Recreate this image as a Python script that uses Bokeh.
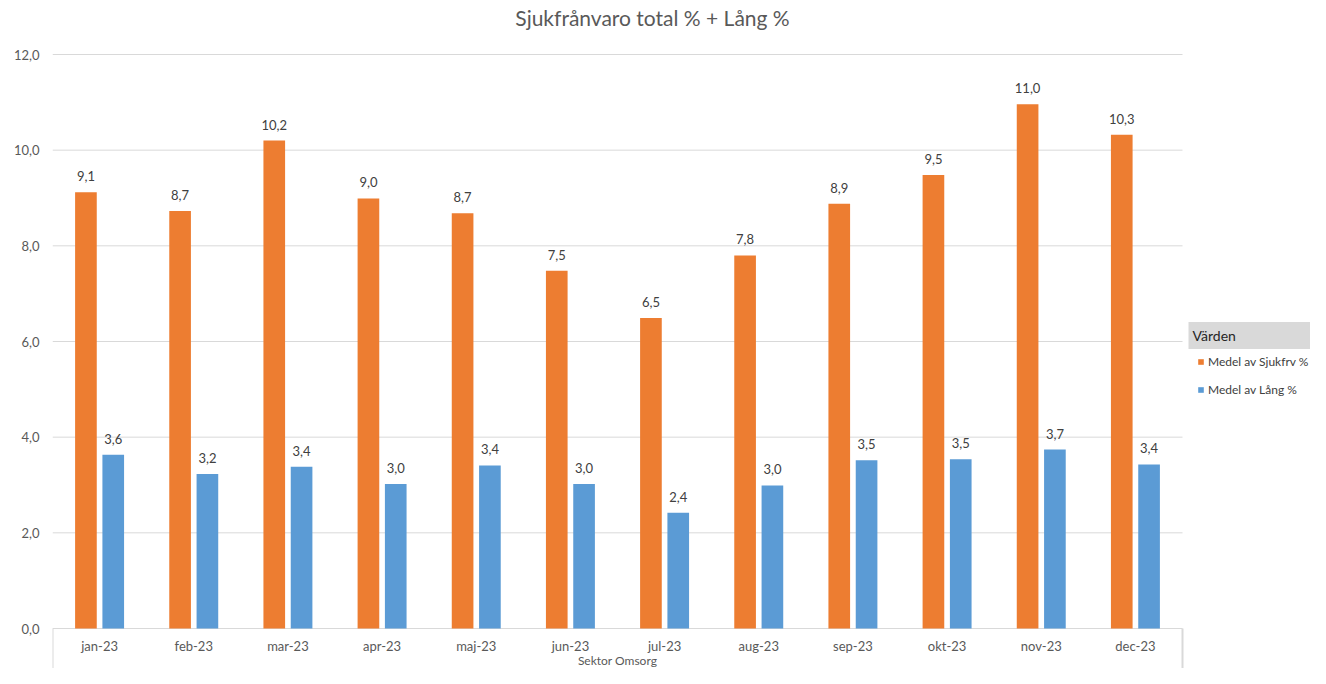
import numpy as np
from bokeh.plotting import figure
from bokeh.models import (Range1d, FixedTicker, CustomJSTickFormatter, Label,
                          Legend, LegendItem, ColumnDataSource)
from bokeh.core.properties import value
from bokeh.embed import file_html
from bokeh.resources import INLINE

# ---- data ----
months = ["jan-23", "feb-23", "mar-23", "apr-23", "maj-23", "jun-23",
          "jul-23", "aug-23", "sep-23", "okt-23", "nov-23", "dec-23"]
sjukfrv = [9.12, 8.73, 10.20, 8.99, 8.68, 7.48, 6.49, 7.80, 8.88, 9.48, 10.96, 10.32]
lang = [3.63, 3.23, 3.38, 3.02, 3.41, 3.02, 2.42, 2.99, 3.52, 3.54, 3.74, 3.43]
series_names = ["Medel av Sjukfrv %", "Medel av Lång %"]
y_ticks = [0, 2, 4, 6, 8, 10, 12]
title_text = "Sjukfrånvaro total % + Lång %"
x_group_label = "Sektor Omsorg"
legend_title = "Värden"

FONT = "Lato"
ORANGE = "#ED7D31"
BLUE = "#5B9BD5"
TXT = "#595959"
GRID = "#d9d9d9"

# ---- layout (pixels) ----
W, H = 1310, 668
LEFT = 52            # frame left edge
PLOT_W = 1130        # width taken by the 12 categories
Y0_PX = 628          # pixel row of value 0
Y12_PX = 54          # pixel row of value 12

n = len(months)
px_per_cat = PLOT_W / n
px_per_unit = (Y0_PX - Y12_PX) / y_ticks[-1]
x_end = (W - LEFT) / px_per_cat
y_start = -(H - Y0_PX) / px_per_unit
y_end = Y0_PX / px_per_unit


def fmt(v):
    return f"{v:.1f}".replace(".", ",")


centers = np.arange(n) + 0.5
off = 0.145
bw = 0.23

src = ColumnDataSource(dict(
    month=months, center=centers, x_s=centers - off, x_l=centers + off,
    sjuk=sjukfrv, lang=lang,
    sjuk_lbl=[fmt(v) for v in sjukfrv], lang_lbl=[fmt(v) for v in lang],
    zero=[0] * n,
))

p = figure(width=W, height=H,
           x_range=Range1d(0, x_end), y_range=Range1d(y_start, y_end),
           x_axis_location=None,
           output_backend="svg", toolbar_location=None,
           min_border_left=LEFT, min_border_right=0,
           min_border_top=0, min_border_bottom=0)
p.background_fill_color = "white"
p.border_fill_color = "white"
p.outline_line_color = None

p.yaxis.ticker = FixedTicker(ticks=y_ticks)
p.yaxis.formatter = CustomJSTickFormatter(code="return tick.toFixed(1).replace('.', ',');")
p.yaxis.axis_line_color = None
p.yaxis.major_tick_line_color = None
p.yaxis.minor_tick_line_color = None
p.yaxis.major_tick_in = 0
p.yaxis.major_tick_out = 0
p.yaxis.major_label_standoff = 13
p.yaxis.major_label_text_font = FONT
p.yaxis.major_label_text_font_size = "13px"
p.yaxis.major_label_text_color = TXT

p.xgrid.visible = False
p.ygrid.visible = False

# horizontal gridlines, only across the category area
p.segment(x0=[0] * len(y_ticks), x1=[n] * len(y_ticks), y0=y_ticks, y1=y_ticks,
          line_color=GRID, line_width=1)
# vertical lines of the category axis box
p.segment(x0=[0, n], x1=[0, n], y0=[0, 0], y1=[y_start, y_start],
          line_color=GRID, line_width=2)

r1 = p.vbar(x="x_s", top="sjuk", width=bw, source=src, fill_color=ORANGE, line_color=None)
r2 = p.vbar(x="x_l", top="lang", width=bw, source=src, fill_color=BLUE, line_color=None)

lbl_kw = dict(text_align="center", text_baseline="middle", text_font=value(FONT),
              text_font_size="13px", text_color="#404040", source=src)
p.text(x="x_s", y="sjuk", text="sjuk_lbl", y_offset=-16, **lbl_kw)
p.text(x="x_l", y="lang", text="lang_lbl", y_offset=-16, **lbl_kw)

# category labels under the bars
p.text(x="center", y="zero", text="month", y_offset=17, text_align="center",
       text_baseline="middle", text_font=value(FONT), text_font_size="13px",
       text_color=TXT, source=src)

# title
p.add_layout(Label(x=600, y=H - 17, x_units="screen", y_units="screen", text=title_text,
                   text_align="center", text_baseline="middle", text_font=FONT,
                   text_font_size="21px", text_color=TXT))

# group label
p.add_layout(Label(x=PLOT_W / 2, y=H - 660, x_units="screen", y_units="screen",
                   text=x_group_label, text_align="center", text_baseline="middle",
                   text_font=FONT, text_font_size="12px", text_color=TXT))

# legend header
p.add_layout(Label(x=1188 - LEFT, y=H - 335, x_units="screen", y_units="screen",
                   text=legend_title, text_align="left", text_baseline="middle",
                   text_font=FONT, text_font_size="14px", text_color="#262626",
                   background_fill_color="#d9d9d9",
                   padding=dict(left=4, right=140, top=5, bottom=5)))

legend = Legend(items=[LegendItem(label=series_names[0], renderers=[r1]),
                       LegendItem(label=series_names[1], renderers=[r2])],
                location=(1197 - LEFT, H - 399), padding=0, margin=0, spacing=8,
                glyph_width=7, glyph_height=7, label_standoff=4, label_height=20,
                label_text_font=FONT, label_text_font_size="12px", label_text_color="#404040",
                border_line_color=None, background_fill_alpha=0)
p.add_layout(legend)

open("out.html", "w").write(file_html(p, INLINE))
